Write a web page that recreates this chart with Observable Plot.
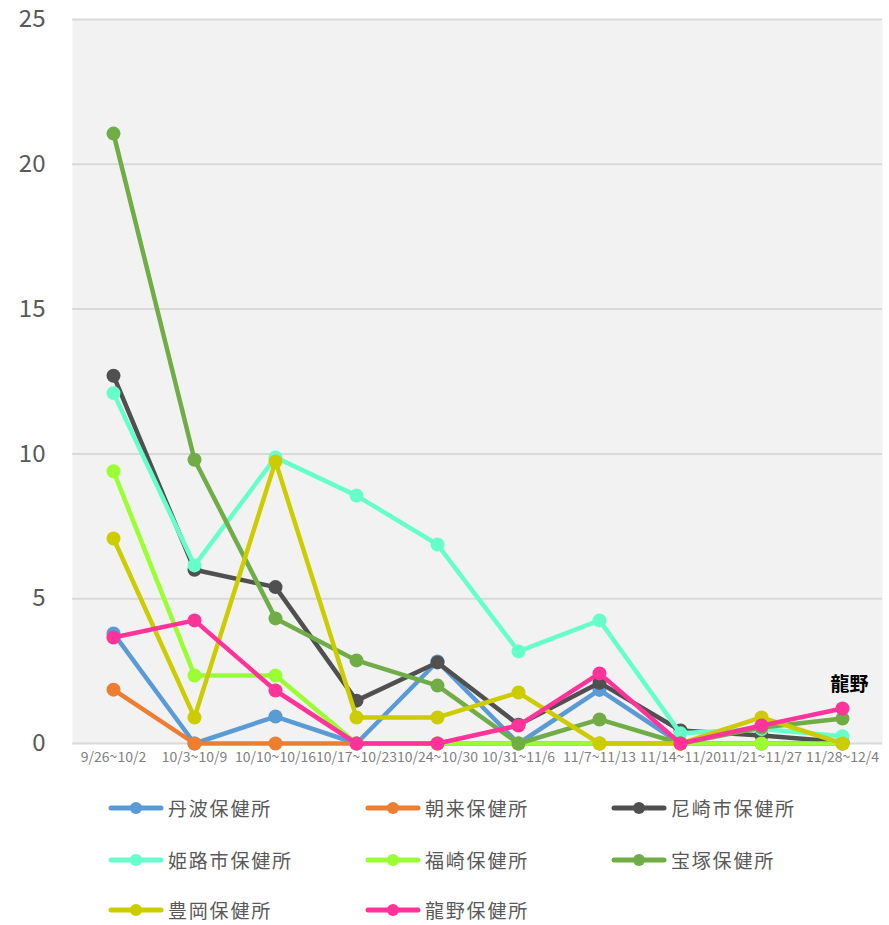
<!DOCTYPE html>
<html>
<head>
<meta charset="utf-8">
<script src="https://cdn.jsdelivr.net/npm/d3@7"></script>
<script src="https://cdn.jsdelivr.net/npm/@observablehq/plot@0.6"></script>
<style>
  body { margin: 0; background: #fff; font-family: "Noto Sans CJK JP", "Noto Sans", sans-serif; }
  #wrap { position: relative; width: 889px; height: 925px; }
  #legend { position: absolute; left: 0; top: 0; width: 889px; height: 925px; pointer-events: none; }
  .item { position: absolute; display: flex; align-items: center; height: 22px; line-height: 22px; color: #595959; font-size: 19px; letter-spacing: 1.8px; white-space: nowrap; }
  .item svg { margin-right: 4px; }
</style>
</head>
<body>
<div id="wrap"><div id="chart"></div><div id="legend"></div></div>
<script>
const weeks = ["9/26~10/2","10/3~10/9","10/10~10/16","10/17~10/23","10/24~10/30","10/31~11/6","11/7~11/13","11/14~11/20","11/21~11/27","11/28~12/4"];
const seriesNames = ["丹波保健所","朝来保健所","尼崎市保健所","姫路市保健所","福崎保健所","宝塚保健所","豊岡保健所","龍野保健所"];
const seriesColors = ["#5B9BD5","#ED7D31","#505050","#66FFCC","#99FF33","#70AD47","#CCCC00","#FF3399"];
const tanba     = [3.8, 0, 0.93, 0, 2.83, 0, 1.85, 0, 0, 0];
const asago     = [1.86, 0, 0, 0, 0, 0, 0, 0, 0, 0];
const amagasaki = [12.7, 6.0, 5.4, 1.48, 2.8, 0.65, 2.1, 0.45, 0.28, 0.05];
const himeji    = [12.1, 6.15, 9.88, 8.56, 6.87, 3.18, 4.25, 0.35, 0.5, 0.25];
const fukusaki  = [9.4, 2.35, 2.35, 0, 0, 0, 0, 0, 0, 0];
const takarazuka= [21.06, 9.8, 4.32, 2.87, 2.0, 0, 0.83, 0, 0.55, 0.86];
const toyooka   = [7.08, 0.9, 9.74, 0.9, 0.9, 1.76, 0, 0, 0.9, 0];
const tatsuno   = [3.66, 4.25, 1.83, 0, 0, 0.62, 2.42, 0, 0.62, 1.21];
const seriesValues = [tanba, asago, amagasaki, himeji, fukusaki, takarazuka, toyooka, tatsuno];
const yTicks = [0, 5, 10, 15, 20, 25];
const endLabel = "龍野";

const data = seriesNames.map((name, i) => seriesValues[i].map((v, j) => ({series: name, week: weeks[j], value: v, color: seriesColors[i]})));

const marks = [
  Plot.frame({fill: "#f2f2f2", stroke: null}),
  Plot.gridY(yTicks, {stroke: "#d9d9d9", strokeOpacity: 1, strokeWidth: 2})
];
data.forEach((d, i) => {
  marks.push(Plot.line(d, {x: "week", y: "value", stroke: seriesColors[i], strokeWidth: 4.5, strokeLinejoin: "round"}));
  marks.push(Plot.dot(d, {x: "week", y: "value", fill: seriesColors[i], r: 7, stroke: null}));
});
const last = data[data.length - 1];
marks.push(Plot.text([last[last.length - 1]], {x: "week", y: "value", text: () => endLabel, dy: -24, dx: 7, fontSize: 19, fontWeight: "bold", fill: "#000"}));
marks.push(Plot.axisY(yTicks, {tickSize: 0, tickPadding: 27, fontSize: 24, fill: "#595959", anchor: "left"}));
marks.push(Plot.axisX(weeks, {tickSize: 0, tickPadding: 9, fontSize: 14, fill: "#7f7f7f", anchor: "bottom"}));

const chart = Plot.plot({
  width: 889,
  height: 775,
  marginTop: 19,
  marginBottom: 32,
  marginLeft: 72,
  marginRight: 7,
  style: {fontFamily: "'Noto Sans CJK JP', 'Noto Sans', sans-serif", background: "#fff", overflow: "visible"},
  x: {type: "point", domain: weeks, padding: 0.5, label: null, axis: null},
  y: {domain: [0, 25], label: null, axis: null},
  marks
});
document.getElementById("chart").appendChild(chart);

const legendPos = [[108,808],[365,808],[611,808],[108,860],[365,860],[611,860],[108,910],[365,910]];
const legend = document.getElementById("legend");
seriesNames.forEach((name, i) => {
  const [x, y] = legendPos[i];
  const div = document.createElement("div");
  div.className = "item";
  div.style.left = x + "px";
  div.style.top = (y - 11) + "px";
  div.innerHTML = `<svg width="56" height="14"><line x1="3" y1="7" x2="53" y2="7" stroke="${seriesColors[i]}" stroke-width="5" stroke-linecap="round"/><circle cx="28" cy="7" r="6" fill="${seriesColors[i]}"/></svg><span>${name}</span>`;
  legend.appendChild(div);
});
</script>
</body>
</html>
